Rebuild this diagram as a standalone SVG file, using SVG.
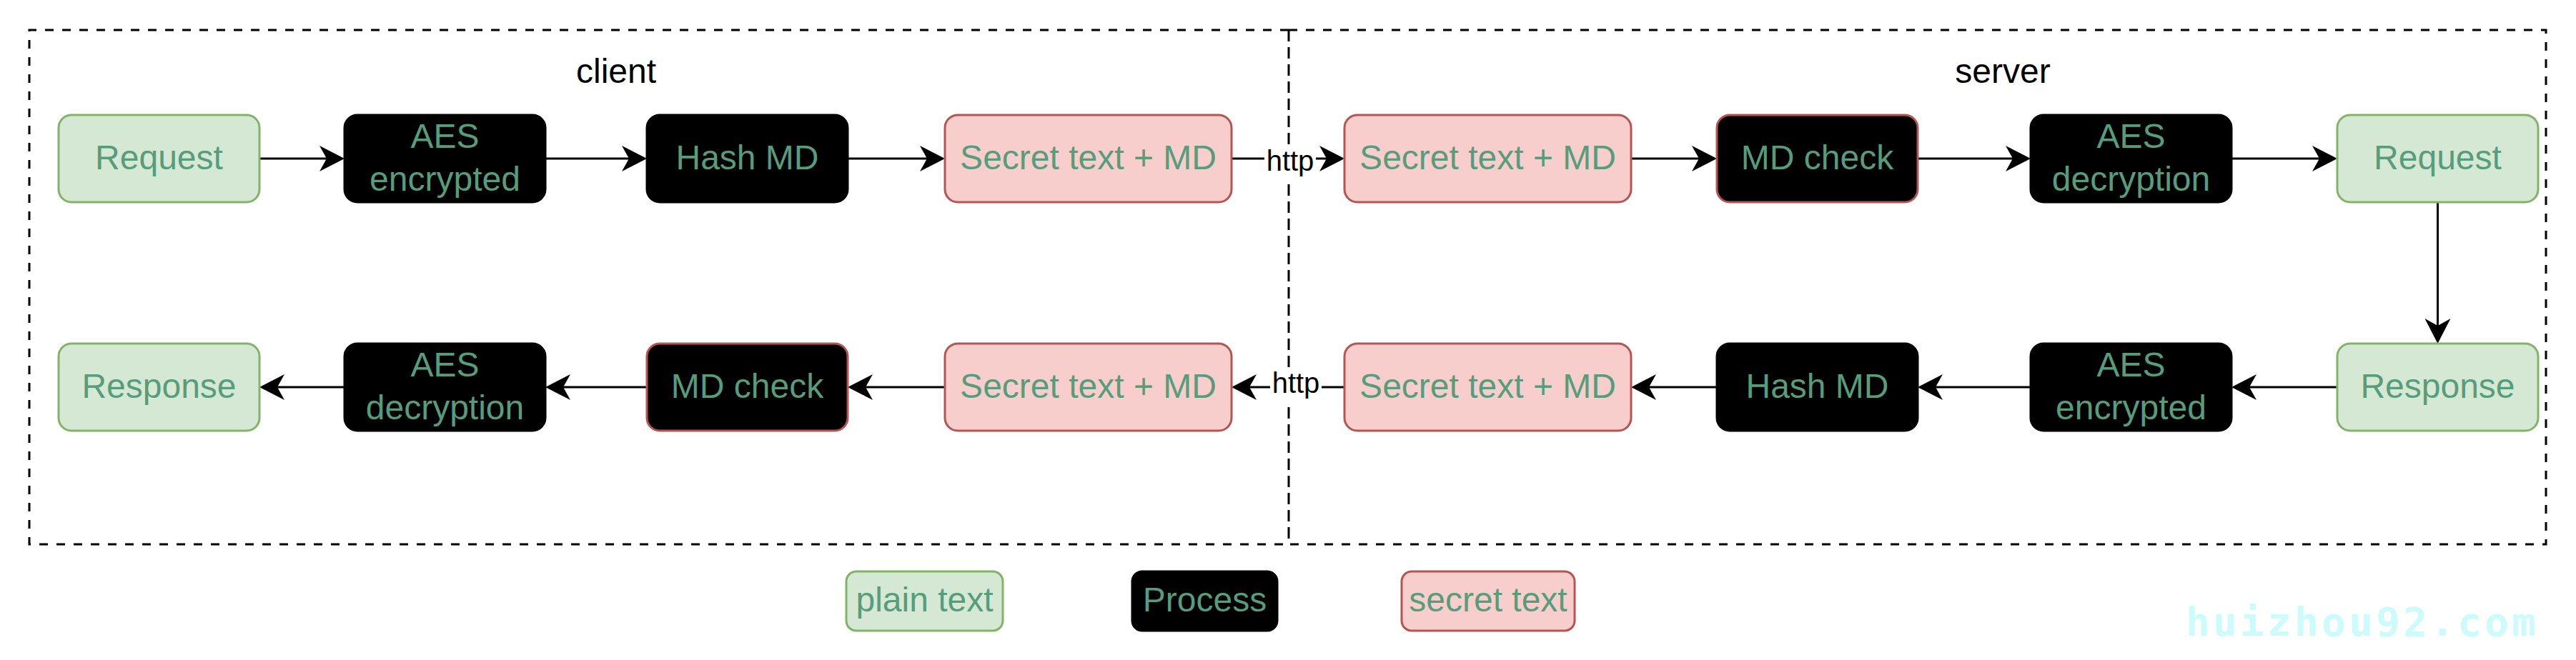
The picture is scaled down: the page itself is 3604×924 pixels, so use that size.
<svg xmlns="http://www.w3.org/2000/svg" width="3604" height="924" viewBox="0 0 3604 924">
<style>
.box{stroke-width:3}
.plain{fill:#d5e8d4;stroke:#82b366}
.proc{fill:#000000;stroke:#000000}
.check{fill:#000000;stroke:#b85450}
.secret{fill:#f8cecc;stroke:#b85450}
.t{font-family:"Liberation Sans",Arial,Helvetica,sans-serif;font-size:48px;fill:#579d7b;text-anchor:middle}
.title{font-family:"Liberation Sans",Arial,Helvetica,sans-serif;font-size:48px;fill:#000000;text-anchor:middle}
.lbl{font-family:"Liberation Sans",Arial,Helvetica,sans-serif;font-size:40px;fill:#000000;text-anchor:middle}
.zone{fill:none;stroke:#000000;stroke-width:3;stroke-dasharray:12 12}
.edge{fill:none;stroke:#000000;stroke-width:3;marker-end:url(#arr)}
.wm{font-family:"DejaVu Sans Mono","Liberation Mono",monospace;font-weight:bold;font-size:56px;fill:#ccfbfb}
</style>
<defs>
<marker id="arr" markerUnits="userSpaceOnUse" viewBox="0 0 35 36" markerWidth="35" markerHeight="36" refX="10" refY="18" orient="auto">
<path d="M0,0 L35,18 L0,36 L10,18 Z" fill="#000000"/>
</marker>
</defs>
<rect width="3604" height="924" fill="#ffffff"/>

<g id="zone-client">
<path class="zone" d="M1803 42 H41 V762 H1803"/>
<text class="title" x="862" y="116">client</text>
</g>
<g id="zone-server">
<path class="zone" d="M1803 42 H3562 V762 H1803"/>
<path class="zone" d="M1803 42 V762" style="stroke-dasharray:16 8"/>
<text class="title" x="2802" y="116">server</text>
</g>

<g id="connectors">
<path class="edge" d="M363 222 H457"/>
<path class="edge" d="M763 222 H880"/>
<path class="edge" d="M1186 222 H1297"/>
<path class="edge" d="M1723 222 H1856"/>
<path class="edge" d="M2282 222 H2377"/>
<path class="edge" d="M2683 222 H2816"/>
<path class="edge" d="M3122 222 H3245"/>
<path class="edge" d="M3410.5 283 V456"/>
<path class="edge" d="M3270 542 H3147"/>
<path class="edge" d="M2841 542 H2708"/>
<path class="edge" d="M2402 542 H2307"/>
<path class="edge" d="M1881 542 H1748"/>
<path class="edge" d="M1322 542 H1211"/>
<path class="edge" d="M905 542 H788"/>
<path class="edge" d="M482 542 H388"/>
<rect x="1769" y="204" width="72" height="52" fill="#ffffff"/>
<text class="lbl" x="1805" y="239">http</text>
<rect x="1777" y="514" width="72" height="50" fill="#ffffff"/>
<text class="lbl" x="1813" y="550">http</text>
</g>

<g id="n-request-c">
<rect class="box plain" x="82" y="161" width="281" height="122" rx="18"/>
<text class="t" x="222.5" y="237">Request</text>
</g>
<g id="n-aes-enc-c">
<rect class="box proc" x="482" y="161" width="281" height="122" rx="18"/>
<text class="t" x="622.5" y="207">AES</text>
<text class="t" x="622.5" y="267">encrypted</text>
</g>
<g id="n-hash-c">
<rect class="box proc" x="905" y="161" width="281" height="122" rx="18"/>
<text class="t" x="1045.5" y="237">Hash MD</text>
</g>
<g id="n-secret-c1">
<rect class="box secret" x="1322" y="161" width="401" height="122" rx="18"/>
<text class="t" x="1522.5" y="237">Secret text + MD</text>
</g>
<g id="n-secret-s1">
<rect class="box secret" x="1881" y="161" width="401" height="122" rx="18"/>
<text class="t" x="2081.5" y="237">Secret text + MD</text>
</g>
<g id="n-check-s">
<rect class="box check" x="2402" y="161" width="281" height="122" rx="18"/>
<text class="t" x="2542.5" y="237">MD check</text>
</g>
<g id="n-aes-dec-s">
<rect class="box proc" x="2841" y="161" width="281" height="122" rx="18"/>
<text class="t" x="2981.5" y="207">AES</text>
<text class="t" x="2981.5" y="267">decryption</text>
</g>
<g id="n-request-s">
<rect class="box plain" x="3270" y="161" width="281" height="122" rx="18"/>
<text class="t" x="3410.5" y="237">Request</text>
</g>

<g id="n-response-c">
<rect class="box plain" x="82" y="481" width="281" height="122" rx="18"/>
<text class="t" x="222.5" y="557">Response</text>
</g>
<g id="n-aes-dec-c">
<rect class="box proc" x="482" y="481" width="281" height="122" rx="18"/>
<text class="t" x="622.5" y="527">AES</text>
<text class="t" x="622.5" y="587">decryption</text>
</g>
<g id="n-check-c">
<rect class="box check" x="905" y="481" width="281" height="122" rx="18"/>
<text class="t" x="1045.5" y="557">MD check</text>
</g>
<g id="n-secret-c2">
<rect class="box secret" x="1322" y="481" width="401" height="122" rx="18"/>
<text class="t" x="1522.5" y="557">Secret text + MD</text>
</g>
<g id="n-secret-s2">
<rect class="box secret" x="1881" y="481" width="401" height="122" rx="18"/>
<text class="t" x="2081.5" y="557">Secret text + MD</text>
</g>
<g id="n-hash-s">
<rect class="box proc" x="2402" y="481" width="281" height="122" rx="18"/>
<text class="t" x="2542.5" y="557">Hash MD</text>
</g>
<g id="n-aes-enc-s">
<rect class="box proc" x="2841" y="481" width="281" height="122" rx="18"/>
<text class="t" x="2981.5" y="527">AES</text>
<text class="t" x="2981.5" y="587">encrypted</text>
</g>
<g id="n-response-s">
<rect class="box plain" x="3270" y="481" width="281" height="122" rx="18"/>
<text class="t" x="3410.5" y="557">Response</text>
</g>

<g id="legend-plain">
<rect class="box plain" x="1184" y="800" width="219" height="83" rx="14"/>
<text class="t" x="1293.5" y="856">plain text</text>
</g>
<g id="legend-process">
<rect class="box proc" x="1584" y="800" width="203" height="83" rx="14"/>
<text class="t" x="1685.5" y="856">Process</text>
</g>
<g id="legend-secret">
<rect class="box secret" x="1961" y="800" width="242" height="83" rx="14"/>
<text class="t" x="2082" y="856">secret text</text>
</g>

<text class="wm" x="3058" y="890" textLength="490" lengthAdjust="spacing">huizhou92.com</text>
</svg>
